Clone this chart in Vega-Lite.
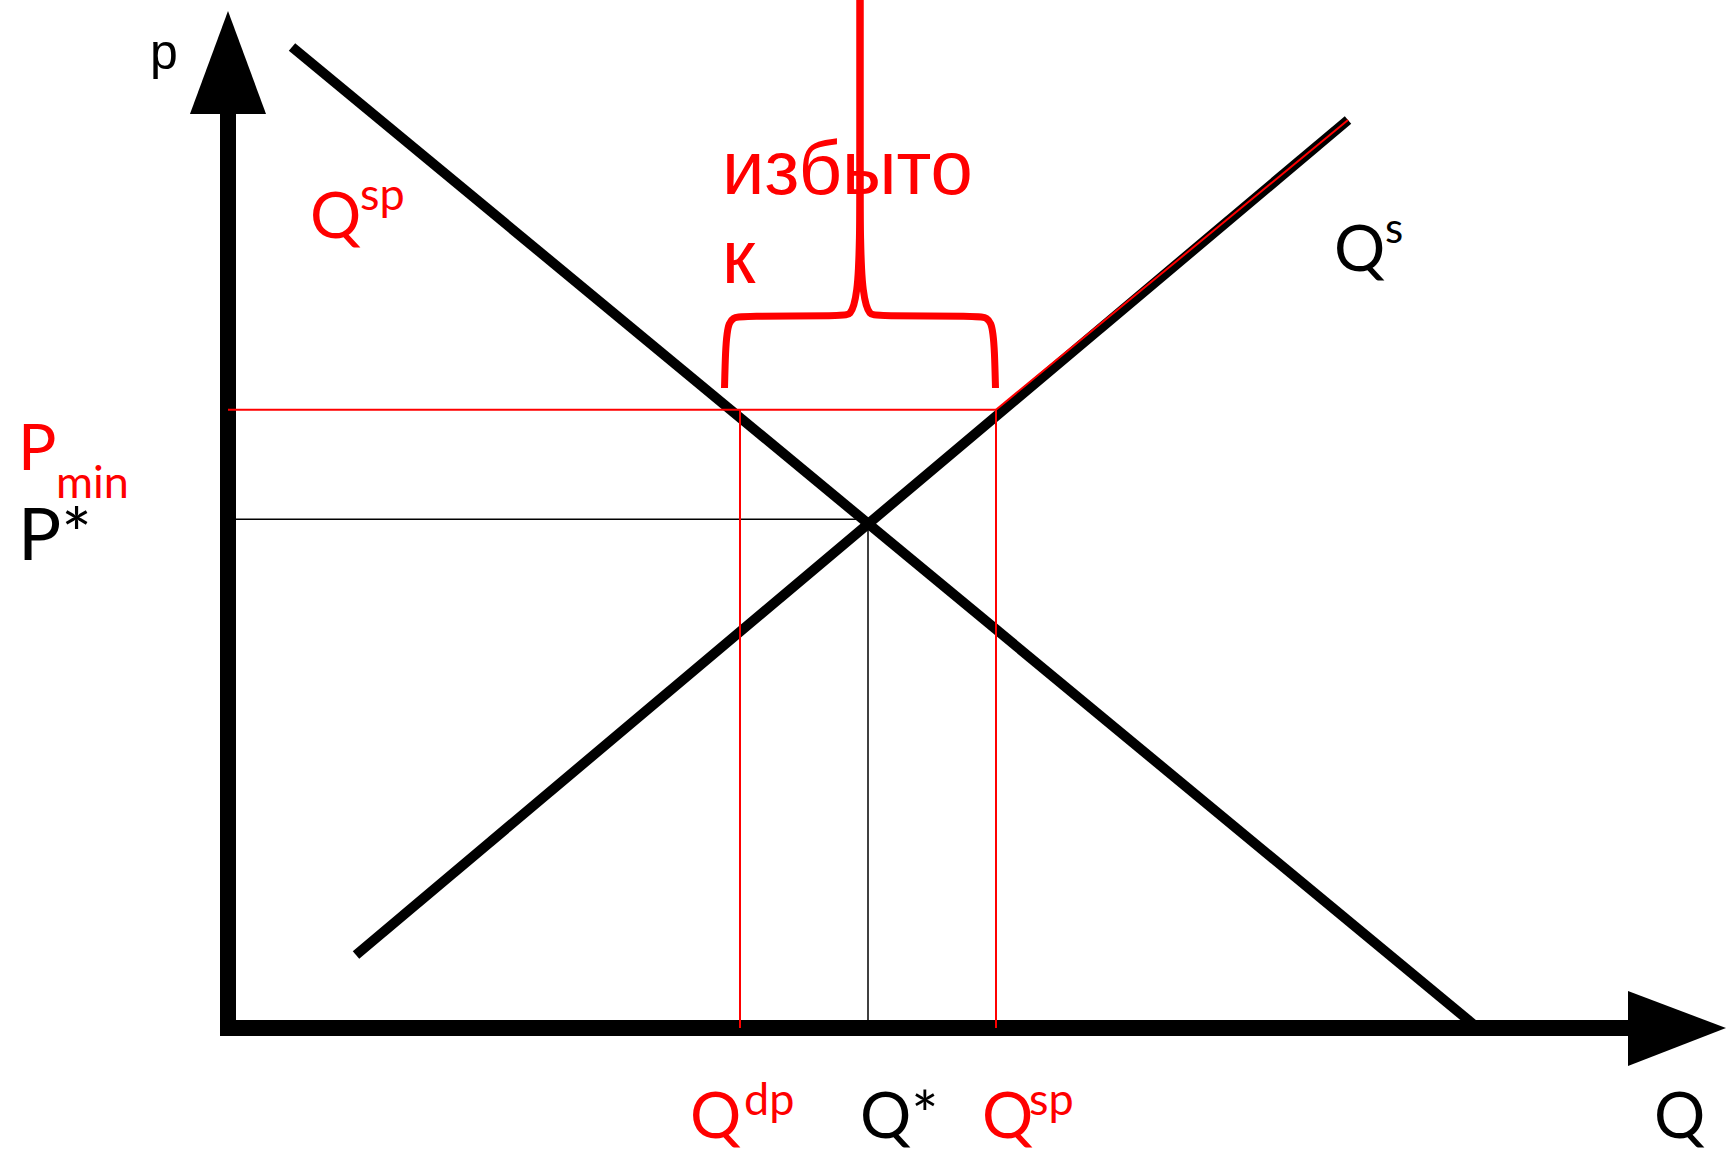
{
  "$schema": "https://vega.github.io/schema/vega-lite/v6.json",
  "width": 1726,
  "height": 1152,
  "autosize": {"type": "none"},
  "padding": 0,
  "background": "white",
  "config": {"view": {"stroke": null}},
  "datasets": {
    "thinBlack": [
      {"q": 0, "p": 7.95, "q2": 10, "p2": 7.95},
      {"q": 10, "p": 7.88, "q2": 10, "p2": 0}
    ],
    "axes": [
      {"q": 0, "p": -0.125, "q2": 0, "p2": 14.3},
      {"q": -0.125, "p": 0, "q2": 21.9, "p2": 0}
    ],
    "arrowY": [
      {"p": 14.281, "q": -0.594, "q2": 0.594},
      {"p": 15.891, "q": 0, "q2": 0}
    ],
    "arrowX": [
      {"q": 21.875, "p": 0.578, "p2": -0.594},
      {"q": 23.406, "p": 0, "p2": 0}
    ],
    "curves": [
      {"curve": "demand", "q": 1.0, "p": 15.328, "q2": 19.453, "p2": 0.0625},
      {"curve": "supply", "q": 2.0, "p": 1.141, "q2": 17.5, "p2": 14.1875}
    ],
    "thinRed": [
      {"q": 0, "p": 9.66, "q2": 12, "p2": 9.66},
      {"q": 8, "p": 9.66, "q2": 8, "p2": 0},
      {"q": 12, "p": 9.66, "q2": 12, "p2": 0},
      {"q": 12, "p": 9.66, "q2": 17.5, "p2": 14.1875}
    ],
    "brace": [
      {"side": "L", "i": 0, "q": 9.875, "p": 16.2},
      {"side": "L", "i": 1, "q": 9.875, "p": 12.9375},
      {"side": "L", "i": 2, "q": 9.867, "p": 12.3125},
      {"side": "L", "i": 3, "q": 9.852, "p": 11.844},
      {"side": "L", "i": 4, "q": 9.828, "p": 11.531},
      {"side": "L", "i": 5, "q": 9.781, "p": 11.281},
      {"side": "L", "i": 6, "q": 9.719, "p": 11.156},
      {"side": "L", "i": 7, "q": 9.656, "p": 11.125},
      {"side": "L", "i": 8, "q": 8.0, "p": 11.125},
      {"side": "L", "i": 9, "q": 7.891, "p": 11.094},
      {"side": "L", "i": 10, "q": 7.828, "p": 11.016},
      {"side": "L", "i": 11, "q": 7.797, "p": 10.859},
      {"side": "L", "i": 12, "q": 7.773, "p": 10.594},
      {"side": "L", "i": 13, "q": 7.758, "p": 10.0},
      {"side": "R", "i": 0, "q": 9.875, "p": 16.2},
      {"side": "R", "i": 1, "q": 9.875, "p": 12.9375},
      {"side": "R", "i": 2, "q": 9.883, "p": 12.3125},
      {"side": "R", "i": 3, "q": 9.898, "p": 11.844},
      {"side": "R", "i": 4, "q": 9.922, "p": 11.531},
      {"side": "R", "i": 5, "q": 9.969, "p": 11.281},
      {"side": "R", "i": 6, "q": 10.031, "p": 11.156},
      {"side": "R", "i": 7, "q": 10.094, "p": 11.125},
      {"side": "R", "i": 8, "q": 11.75, "p": 11.125},
      {"side": "R", "i": 9, "q": 11.859, "p": 11.094},
      {"side": "R", "i": 10, "q": 11.922, "p": 11.016},
      {"side": "R", "i": 11, "q": 11.953, "p": 10.859},
      {"side": "R", "i": 12, "q": 11.977, "p": 10.594},
      {"side": "R", "i": 13, "q": 11.992, "p": 10.0}
    ],
    "redMain": [
      {"text": "Q", "q": 1.281, "p": 12.344},
      {"text": "P", "q": -3.281, "p": 8.719},
      {"text": "Q", "q": 7.219, "p": -1.72},
      {"text": "Q", "q": 11.781, "p": -1.72}
    ],
    "redSmall": [
      {"text": "sp", "q": 2.0625, "p": 12.781},
      {"text": "min", "q": -2.6875, "p": 8.281},
      {"text": "dp", "q": 8.0625, "p": -1.36},
      {"text": "sp", "q": 12.516, "p": -1.36}
    ],
    "blackMain": [
      {"text": "Q*", "q": 9.875, "p": -1.72},
      {"text": "Q", "q": 22.281, "p": -1.72},
      {"text": "Q", "q": 17.281, "p": 11.828}
    ],
    "blackSmall": [
      {"text": "s", "q": 18.08, "p": 12.266}
    ],
    "blackBig": [
      {"text": "P*", "q": -3.281, "p": 7.3125}
    ],
    "axisLabel": [
      {"text": "p", "q": -1.219, "p": 14.984}
    ],
    "surplus": [
      {"text": "избыто", "q": 7.719, "p": 13.031},
      {"text": "к", "q": 7.719, "p": 11.641}
    ]
  },
  "encoding": {
    "x": {"field": "q", "type": "quantitative", "stack": null, "scale": {"domain": [-3.5625, 23.40625], "nice": false, "zero": false}, "axis": null},
    "y": {"field": "p", "type": "quantitative", "stack": null, "scale": {"domain": [-1.9375, 16.0625], "nice": false, "zero": false}, "axis": null}
  },
  "layer": [
    {
      "data": {"name": "thinBlack"},
      "mark": {"type": "rule", "color": "#000000", "strokeWidth": 1.5},
      "encoding": {"x2": {"field": "q2"}, "y2": {"field": "p2"}}
    },
    {
      "data": {"name": "axes"},
      "mark": {"type": "rule", "color": "#000000", "strokeWidth": 16, "strokeCap": "butt"},
      "encoding": {"x2": {"field": "q2"}, "y2": {"field": "p2"}}
    },
    {
      "data": {"name": "arrowY"},
      "mark": {"type": "area", "orient": "horizontal", "color": "#000000", "opacity": 1},
      "encoding": {"x2": {"field": "q2"}}
    },
    {
      "data": {"name": "arrowX"},
      "mark": {"type": "area", "orient": "vertical", "color": "#000000", "opacity": 1},
      "encoding": {"y2": {"field": "p2"}}
    },
    {
      "data": {"name": "curves"},
      "mark": {"type": "rule", "color": "#000000", "strokeWidth": 10, "strokeCap": "butt"},
      "encoding": {"x2": {"field": "q2"}, "y2": {"field": "p2"}}
    },
    {
      "data": {"name": "thinRed"},
      "mark": {"type": "rule", "color": "#FF0000", "strokeWidth": 2},
      "encoding": {"x2": {"field": "q2"}, "y2": {"field": "p2"}}
    },
    {
      "data": {"name": "brace"},
      "mark": {"type": "line", "color": "#FF0000", "strokeWidth": 7, "strokeCap": "butt", "strokeJoin": "round", "interpolate": "basis"},
      "encoding": {"order": {"field": "i", "type": "quantitative"}, "detail": {"field": "side", "type": "nominal"}}
    },
    {
      "data": {"name": "redMain"},
      "mark": {"type": "text", "font": "Lato", "fontSize": 64, "color": "#FF0000", "align": "left", "baseline": "alphabetic"},
      "encoding": {"text": {"field": "text"}}
    },
    {
      "data": {"name": "redSmall"},
      "mark": {"type": "text", "font": "Lato", "fontSize": 45, "color": "#FF0000", "align": "left", "baseline": "alphabetic"},
      "encoding": {"text": {"field": "text"}}
    },
    {
      "data": {"name": "blackMain"},
      "mark": {"type": "text", "font": "Lato", "fontSize": 64, "color": "#000000", "align": "left", "baseline": "alphabetic"},
      "encoding": {"text": {"field": "text"}}
    },
    {
      "data": {"name": "blackSmall"},
      "mark": {"type": "text", "font": "Lato", "fontSize": 42, "color": "#000000", "align": "left", "baseline": "alphabetic"},
      "encoding": {"text": {"field": "text"}}
    },
    {
      "data": {"name": "blackBig"},
      "mark": {"type": "text", "font": "Lato", "fontSize": 72, "color": "#000000", "align": "left", "baseline": "alphabetic", "letterSpacing": 4},
      "encoding": {"text": {"field": "text"}}
    },
    {
      "data": {"name": "axisLabel"},
      "mark": {"type": "text", "font": "Liberation Sans", "fontSize": 50, "color": "#000000", "align": "left", "baseline": "alphabetic"},
      "encoding": {"text": {"field": "text"}}
    },
    {
      "data": {"name": "surplus"},
      "mark": {"type": "text", "font": "Liberation Sans", "fontSize": 76, "color": "#FF0000", "align": "left", "baseline": "alphabetic"},
      "encoding": {"text": {"field": "text"}}
    }
  ]
}
